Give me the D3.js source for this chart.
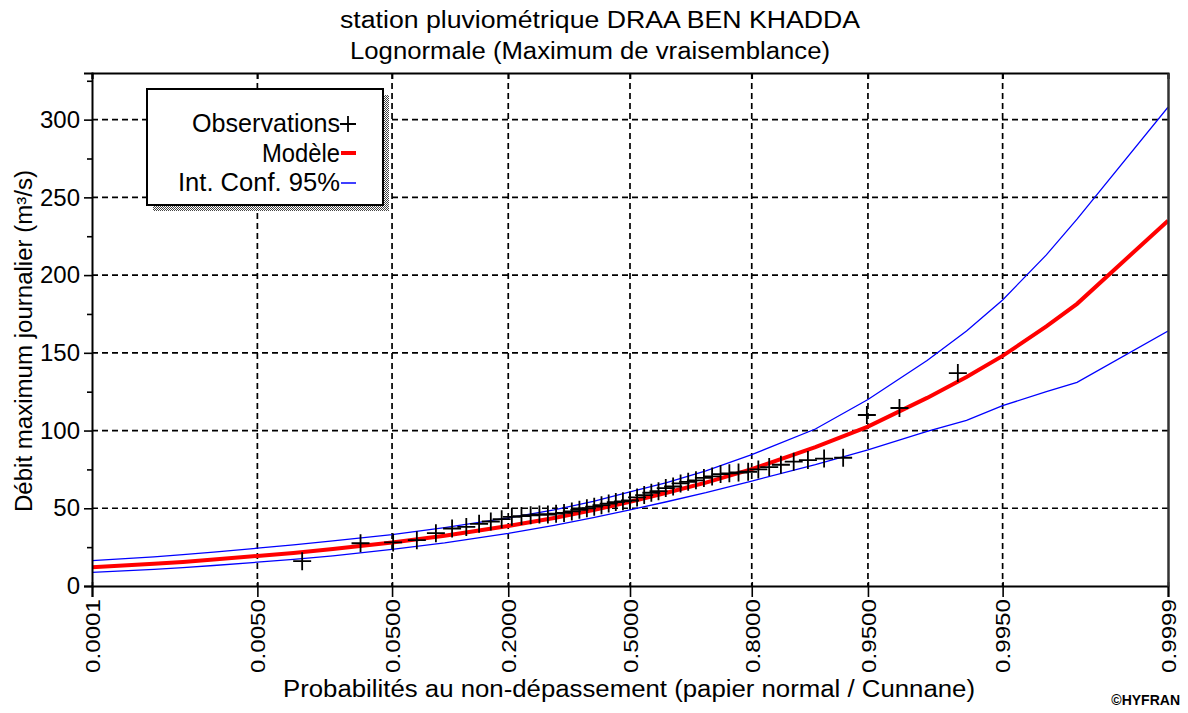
<!DOCTYPE html>
<html>
<head>
<meta charset="utf-8">
<script src="https://cdn.jsdelivr.net/npm/d3@7"></script>
<style>
  body { margin: 0; background: #fff; }
  text { font-family: "Liberation Sans", Arial, sans-serif; fill: #000; }
</style>
</head>
<body>
<div id="chart-area"></div>
<script>
// probabilities where the model and the confidence interval are drawn
let modelProbs = [0.0001, 0.0005, 0.001, 0.002, 0.005, 0.01, 0.02, 0.05, 0.1, 0.2, 0.3, 0.4,
  0.5, 0.6, 0.7, 0.8, 0.9, 0.95, 0.98, 0.99, 0.995, 0.998, 0.999, 0.9999];
let modelQ = [12, 14.3, 15.5, 17, 19.3, 21.3, 23.8, 28, 32.3, 38.6, 43.8, 48.8,
  54.2, 60, 66.5, 75.2, 89.3, 102.5, 121, 134.5, 148, 167, 181.5, 235];
let upperQ = [16.3, 18.8, 20.2, 21.8, 24.3, 26.5, 29, 33, 37.5, 43.8, 49, 54.5,
  60.5, 66.5, 74, 84.5, 101, 120, 145, 164, 184, 213, 236, 308];
let lowerQ = [8.7, 10.7, 11.8, 13.2, 15.3, 17.1, 19.4, 23.6, 27.7, 33.8, 39, 44,
  49, 54.2, 60, 67.5, 78, 87.5, 99.5, 106.5, 116, 125, 131, 164];

// observed annual maxima, sorted (plotted with Cunnane positions)
let obsQ = [16, 27.5, 28, 29.5, 34, 37, 38, 40, 41.5, 43, 44.5, 45, 45.5, 46, 46, 46.5,
  47, 48, 49, 50, 51, 52, 53, 54, 54.5, 55, 57, 58.5, 60, 61, 63, 64, 66, 67, 68,
  69.5, 70.5, 72, 72.5, 73, 73.5, 75, 76.5, 78, 80, 81, 82, 82.5, 110, 114.5, 137];

let xTicks = [0.0001, 0.005, 0.05, 0.2, 0.5, 0.8, 0.95, 0.995, 0.9999];
let yTicks = [0, 50, 100, 150, 200, 250, 300];
let yMinor = [25, 75, 125, 175, 225, 275, 325];

// inverse of the standard normal cdf (normal probability paper)
function probit(p) {
  let a = [-39.69683028665376, 220.9460984245205, -275.9285104469687, 138.3577518672690, -30.66479806614716, 2.506628277459239];
  let b = [-54.47609879822406, 161.5858368580409, -155.6989798598866, 66.80131188771972, -13.28068155288572];
  let c = [-0.007784894002430293, -0.3223964580411365, -2.400758277161838, -2.549732539343734, 4.374664141464968, 2.938163982698783];
  let d = [0.007784695709041462, 0.3224671290700398, 2.445134137142996, 3.754408661907416];
  let plow = 0.02425, q, r;
  if (p < plow) {
    q = Math.sqrt(-2 * Math.log(p));
    return (((((c[0]*q+c[1])*q+c[2])*q+c[3])*q+c[4])*q+c[5]) / ((((d[0]*q+d[1])*q+d[2])*q+d[3])*q+1);
  }
  if (p > 1 - plow) {
    q = Math.sqrt(-2 * Math.log(1 - p));
    return -(((((c[0]*q+c[1])*q+c[2])*q+c[3])*q+c[4])*q+c[5]) / ((((d[0]*q+d[1])*q+d[2])*q+d[3])*q+1);
  }
  q = p - 0.5; r = q * q;
  return (((((a[0]*r+a[1])*r+a[2])*r+a[3])*r+a[4])*r+a[5])*q / (((((b[0]*r+b[1])*r+b[2])*r+b[3])*r+b[4])*r+1);
}

let margin = { left: 92, right: 20, top: 73, bottom: 127 };
let width = 1188 - margin.left - margin.right;
let height = 713 - margin.top - margin.bottom;

let svg = d3.select("#chart-area")
  .append("svg")
  .attr("width", 1188)
  .attr("height", 713);

let defs = svg.append("defs");
let pat = defs.append("pattern")
  .attr("id", "hatch")
  .attr("width", 2).attr("height", 2)
  .attr("patternUnits", "userSpaceOnUse");
pat.append("rect").attr("width", 2).attr("height", 2).attr("fill", "#fff");
pat.append("rect").attr("width", 1).attr("height", 1).attr("fill", "#444");
pat.append("rect").attr("x", 1).attr("y", 1).attr("width", 1).attr("height", 1).attr("fill", "#444");

defs.append("clipPath").attr("id", "plot-clip")
  .append("rect").attr("width", width).attr("height", height);

let g = svg.append("g")
  .attr("transform", "translate(" + margin.left + "," + margin.top + ")");

let x = d3.scaleLinear()
  .domain([probit(0.0001), probit(0.9999)])
  .range([0, width]);

let y = d3.scaleLinear()
  .domain([0, 330])
  .range([height, 0]);

// grid
g.append("g").attr("class", "grid")
  .selectAll("line")
  .data(xTicks.slice(1, -1))
  .enter().append("line")
  .attr("x1", d => x(probit(d))).attr("x2", d => x(probit(d)))
  .attr("y1", 0).attr("y2", height)
  .attr("stroke", "#000").attr("stroke-width", 1.7)
  .attr("stroke-dasharray", "6,4");

g.append("g").attr("class", "grid")
  .selectAll("line")
  .data(yTicks.slice(1))
  .enter().append("line")
  .attr("x1", 0).attr("x2", width)
  .attr("y1", d => y(d)).attr("y2", d => y(d))
  .attr("stroke", "#000").attr("stroke-width", 1.7)
  .attr("stroke-dasharray", "6,4");

// curves
let plot = g.append("g").attr("clip-path", "url(#plot-clip)");

let line = d3.line()
  .x(d => x(probit(d[0])))
  .y(d => y(d[1]));

plot.append("path")
  .datum(d3.zip(modelProbs, upperQ))
  .attr("d", line)
  .attr("fill", "none").attr("stroke", "#0000ff").attr("stroke-width", 1.3);

plot.append("path")
  .datum(d3.zip(modelProbs, lowerQ))
  .attr("d", line)
  .attr("fill", "none").attr("stroke", "#0000ff").attr("stroke-width", 1.3);

plot.append("path")
  .datum(d3.zip(modelProbs, modelQ))
  .attr("d", line)
  .attr("fill", "none").attr("stroke", "#ff0000").attr("stroke-width", 4);

// observations
let n = obsQ.length;
plot.selectAll(".obs")
  .data(obsQ)
  .enter().append("path")
  .attr("class", "obs")
  .attr("transform", (d, i) => "translate(" + x(probit((i + 1 - 0.4) / (n + 0.2))) + "," + y(d) + ")")
  .attr("d", "M-9,0H9M0,-9V9")
  .attr("stroke", "#000").attr("stroke-width", 1.8)
  .attr("fill", "none");

// axes
let xAxisCall = d3.axisBottom(x)
  .tickValues(xTicks.map(probit))
  .tickSize(11)
  .tickFormat((d, i) => d3.format(".4f")(xTicks[i]));

let xAxis = g.append("g")
  .attr("class", "x axis")
  .attr("transform", "translate(0," + height + ")")
  .call(xAxisCall);
xAxis.select(".domain").attr("stroke-width", 2);
xAxis.selectAll(".tick line").attr("stroke-width", 1.6).attr("y1", -4);
xAxis.selectAll("text")
  .attr("font-size", "21px")
  .attr("textLength", 74)
  .attr("lengthAdjust", "spacingAndGlyphs")
  .attr("text-anchor", "end")
  .attr("dy", "0.35em")
  .attr("x", -13)
  .attr("y", 0)
  .attr("transform", "rotate(-90)");

g.append("g")
  .call(d3.axisTop(x).tickValues(xTicks.map(probit)).tickSize(-6).tickFormat(""))
  .call(s => s.select(".domain").attr("stroke-width", 2))
  .call(s => s.selectAll(".tick line").attr("stroke-width", 1.6));

let yAxisCall = d3.axisLeft(y)
  .tickValues(yTicks)
  .tickSize(8)
  .tickPadding(4);

let yAxis = g.append("g")
  .attr("class", "y axis")
  .call(yAxisCall);
yAxis.select(".domain").attr("stroke-width", 2);
yAxis.selectAll(".tick line").attr("stroke-width", 1.6);
yAxis.selectAll("text").attr("font-size", "24px");

g.append("g")
  .call(d3.axisLeft(y).tickValues(yMinor).tickSize(5).tickFormat(""))
  .call(s => s.select(".domain").remove())
  .call(s => s.selectAll(".tick line").attr("stroke-width", 1.6));

g.append("g")
  .attr("transform", "translate(" + width + ",0)")
  .call(d3.axisRight(y).tickValues([]).tickSize(0))
  .call(s => s.select(".domain").attr("stroke-width", 2.5).attr("stroke", "#333"));

// titles
svg.append("text")
  .attr("x", 340).attr("y", 28)
  .attr("font-size", "23px")
  .attr("textLength", 520).attr("lengthAdjust", "spacingAndGlyphs")
  .text("station pluviométrique DRAA BEN KHADDA");

svg.append("text")
  .attr("x", 350).attr("y", 59)
  .attr("font-size", "23px")
  .attr("textLength", 480).attr("lengthAdjust", "spacingAndGlyphs")
  .text("Lognormale (Maximum de vraisemblance)");

svg.append("text")
  .attr("x", 283).attr("y", 697)
  .attr("font-size", "23px")
  .attr("textLength", 692).attr("lengthAdjust", "spacingAndGlyphs")
  .text("Probabilités au non-dépassement (papier normal / Cunnane)");

svg.append("text")
  .attr("transform", "translate(32,512) rotate(-90)")
  .attr("font-size", "23px")
  .attr("textLength", 342).attr("lengthAdjust", "spacingAndGlyphs")
  .text("Débit maximum journalier (m³/s)");

svg.append("text")
  .attr("x", 1180).attr("y", 705)
  .attr("text-anchor", "end")
  .attr("font-size", "14px")
  .attr("font-weight", "bold")
  .text("©HYFRAN");

// legend
let legend = svg.append("g").attr("transform", "translate(147,89)");
legend.append("rect")
  .attr("x", 6).attr("y", 6).attr("width", 236).attr("height", 116)
  .attr("fill", "url(#hatch)");
legend.append("rect")
  .attr("width", 236).attr("height", 116)
  .attr("fill", "#fff").attr("stroke", "#000").attr("stroke-width", 2);

let legendNames = ["Observations", "Modèle", "Int. Conf. 95%"];
let legendWidths = [148, 78, 162];
legend.selectAll(".lab")
  .data(legendNames)
  .enter().append("text")
  .attr("class", "lab")
  .attr("x", 193)
  .attr("y", (d, i) => 43 + i * 29.5)
  .attr("text-anchor", "end")
  .attr("font-size", "25px")
  .attr("textLength", (d, i) => legendWidths[i])
  .attr("lengthAdjust", "spacingAndGlyphs")
  .text(d => d);

legend.append("path")
  .attr("d", "M193,35H209M201,27V43")
  .attr("stroke", "#000").attr("stroke-width", 1.8);
legend.append("line")
  .attr("x1", 194).attr("x2", 209).attr("y1", 64).attr("y2", 64)
  .attr("stroke", "#ff0000").attr("stroke-width", 4);
legend.append("line")
  .attr("x1", 194).attr("x2", 209).attr("y1", 94).attr("y2", 94)
  .attr("stroke", "#0000ff").attr("stroke-width", 1.5);
</script>
</body>
</html>
